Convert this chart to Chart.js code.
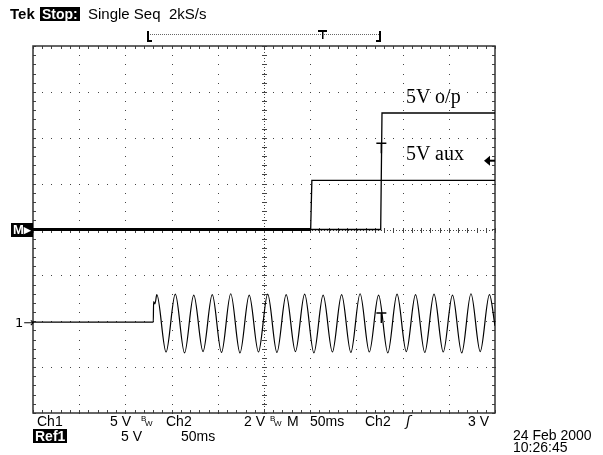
<!DOCTYPE html>
<html>
<head>
<meta charset="utf-8">
<script src="https://cdn.jsdelivr.net/npm/chart.js@4.4.0/dist/chart.umd.min.js"></script>
<style>
  html, body { margin: 0; padding: 0; background: #fff; }
  #wrap { position: relative; width: 603px; height: 455px; overflow: hidden; }
  #scope { position: absolute; left: 0; top: 0; }
  .t { position: absolute; font-family: "Liberation Sans", Arial, sans-serif; font-size: 14px; line-height: 14px; color: #000; white-space: pre; }
  .inv { background: #000; color: #fff; font-weight: bold; padding: 0 2px; }
  .serif { font-family: "Liberation Serif", "Times New Roman", serif; font-size: 20px; line-height: 20px; }
  .bw { position: absolute; font-size: 8px; line-height: 8px; }
</style>
</head>
<body>
<div id="wrap">
  <canvas id="scope" width="603" height="455"></canvas>

  <div class="t" style="left:10px;top:7px;font-weight:bold;font-size:15px;">Tek</div>
  <div class="t inv" style="left:40px;top:7px;">Stop:</div>
  <div class="t" style="left:88px;top:7px;font-size:15px;">Single Seq  2kS/s</div>

  <div class="t inv" style="left:11px;top:223px;font-size:13px;line-height:14px;padding:0 2px;">M▸</div>
  <div class="t" style="left:15px;top:316px;font-size:13px;font-family:'DejaVu Sans';">1→</div>

  <div class="t serif" style="left:406px;top:86px;">5V o/p</div>
  <div class="t serif" style="left:406px;top:143px;">5V aux</div>

  <div class="t" style="left:37px;top:414px;">Ch1</div>
  <div class="t" style="left:110px;top:414px;">5 V</div>
  <div class="t" style="left:141px;top:415px;"><span class="bw" style="left:0;top:0">B</span><span class="bw" style="left:4px;top:5px">W</span></div>
  <div class="t" style="left:166px;top:414px;">Ch2</div>
  <div class="t" style="left:244px;top:414px;">2 V</div>
  <div class="t" style="left:270px;top:415px;"><span class="bw" style="left:0;top:0">B</span><span class="bw" style="left:4px;top:5px">W</span></div>
  <div class="t" style="left:287px;top:414px;">M</div>
  <div class="t" style="left:310px;top:414px;">50ms</div>
  <div class="t" style="left:365px;top:414px;">Ch2</div>
  <div class="t" style="left:406px;top:414px;font-family:'DejaVu Sans';font-style:italic;">ʃ</div>
  <div class="t" style="left:468px;top:414px;">3 V</div>

  <div class="t inv" style="left:33px;top:429px;">Ref1</div>
  <div class="t" style="left:121px;top:429px;">5 V</div>
  <div class="t" style="left:181px;top:429px;">50ms</div>

  <div class="t" style="left:513px;top:428px;">24 Feb 2000</div>
  <div class="t" style="left:513px;top:440px;">10:26:45</div>
</div>
<script>
// eje x en ms (50 ms/div), eje y en divisiones (0 = centro)
const xTicks = [0, 50, 100, 150, 200, 250, 300, 350, 400, 450, 500];
const yTicks = [-4, -3, -2, -1, 0, 1, 2, 3, 4];

// Ref1: 5V o/p
const refTime  = [0, 376.3, 377.7, 500];
const refLevel = [0, 0, 2.54, 2.54];

// Ch1: 5V aux
const auxTime  = [0, 300.5, 301.8, 500];
const auxLevel = [0, 0, 1.07, 1.07];

// Ch2: red 50 Hz (picos y valles)
const ch2Time = [0, 130.2, 130.5, 132,
  134, 144, 154, 164, 174, 184, 194, 204, 214, 224, 234, 244, 254, 264, 274, 284,
  294, 304, 314, 324, 334, 344, 354, 364, 374, 384, 394, 404, 414, 424, 434, 444,
  454, 464, 474, 484, 494, 500];
const ch2Level = [-2.02, -2.02, -1.57, -1.62,
  -1.42, -2.67, -1.41, -2.69, -1.43, -2.66, -1.42, -2.68, -1.40, -2.69, -1.43, -2.67,
  -1.41, -2.68, -1.42, -2.66, -1.41, -2.69, -1.43, -2.67, -1.42, -2.68, -1.40, -2.67,
  -1.43, -2.69, -1.41, -2.66, -1.42, -2.68, -1.41, -2.67, -1.43, -2.69, -1.40, -2.66,
  -1.42, -2.10];

const triggerTime = 377;
const triggerLevel = 1.5;
const cursorLevels = [1.88, -1.82];

const pts = (xs, ys) => xs.map((v, i) => ({ x: v, y: ys[i] }));

// reticula de puntos del osciloscopio
const graticule = {
  id: 'graticule',
  beforeDatasetsDraw(chart) {
    const { ctx, chartArea: a, scales: { x, y } } = chart;
    ctx.save();
    ctx.fillStyle = '#444';
    const minorX = [], minorY = [];
    for (let v = 0; v <= 500.01; v += 10) minorX.push(Math.round(x.getPixelForValue(v)));
    for (let v = -4; v <= 4.001; v += 0.2) minorY.push(Math.round(y.getPixelForValue(v)));
    xTicks.slice(1, -1).forEach(t => {
      const px = Math.round(x.getPixelForValue(t));
      minorY.forEach(py => ctx.fillRect(px, py, 1, 1));
    });
    yTicks.slice(1, -1).forEach(t => {
      const py = Math.round(y.getPixelForValue(t));
      minorX.forEach(px => ctx.fillRect(px, py, 1, 1));
    });
    // ejes centrales con marcas
    const cx = Math.round(x.getPixelForValue(250));
    const cy = Math.round(y.getPixelForValue(0));
    for (let px = a.left; px < a.right; px += 3) ctx.fillRect(px, cy, 1, 1);
    for (let py = a.top; py < a.bottom; py += 3) ctx.fillRect(cx, py, 1, 1);
    minorX.forEach(px => ctx.fillRect(px, cy - 2, 1, 5));
    minorY.forEach(py => ctx.fillRect(cx - 2, py, 5, 1));
    // marcas en el borde
    minorX.forEach(px => { ctx.fillRect(px, a.top, 1, 3); ctx.fillRect(px, a.bottom - 3, 1, 3); });
    minorY.forEach(py => { ctx.fillRect(a.left, py, 3, 1); ctx.fillRect(a.right - 3, py, 3, 1); });
    ctx.strokeStyle = '#333';
    ctx.lineWidth = 1.5;
    ctx.strokeRect(a.left, a.top, a.right - a.left, a.bottom - a.top);
    ctx.restore();
  },
  afterDraw(chart) {
    const { ctx, scales: { x, y }, chartArea: a } = chart;
    ctx.save();
    ctx.strokeStyle = '#000';
    ctx.fillStyle = '#000';
    // cursores T
    const tx = x.getPixelForValue(triggerTime);
    cursorLevels.forEach(l => {
      const ty = y.getPixelForValue(l);
      ctx.lineWidth = 1.5;
      ctx.beginPath();
      ctx.moveTo(tx - 5, ty); ctx.lineTo(tx + 5, ty);
      ctx.moveTo(tx, ty); ctx.lineTo(tx, ty + 10);
      ctx.stroke();
    });
    // flecha de nivel de disparo
    const ay = y.getPixelForValue(triggerLevel);
    ctx.beginPath();
    ctx.moveTo(a.right - 11, ay); ctx.lineTo(a.right - 5, ay - 5); ctx.lineTo(a.right - 5, ay + 5);
    ctx.closePath(); ctx.fill();
    ctx.fillRect(a.right - 6, ay - 1, 6, 2);
    // registro superior [ ... T ... ]
    ctx.lineWidth = 1;
    ctx.fillStyle = '#666';
    for (let px = 150; px < 380; px += 2) ctx.fillRect(px, 34, 1, 1);
    ctx.fillStyle = '#000';
    ctx.fillRect(147, 31, 2, 11); ctx.fillRect(147, 40, 5, 2);
    ctx.fillRect(379, 31, 2, 11); ctx.fillRect(376, 40, 5, 2);
    ctx.fillRect(318, 30, 9, 2); ctx.fillRect(322, 30, 1.5, 9);
    ctx.restore();
  }
};

const cfg = {
  type: 'line',
  data: {
    datasets: [
      { label: 'Ref1', data: pts(refTime, refLevel), borderWidth: 1.3 },
      { label: 'Ch1', data: pts(auxTime, auxLevel), borderWidth: 1.3 },
      { label: 'Ch1 ruido', data: pts(auxTime.slice(0, 2), auxLevel.slice(0, 2)), borderWidth: 2.8 },
      { label: 'Ch2', data: pts(ch2Time, ch2Level), borderWidth: 1.2, cubicInterpolationMode: 'monotone' }
    ]
  },
  options: {
    responsive: false,
    animation: false,
    layout: { padding: { left: 33, top: 46, right: 108, bottom: 42 } },
    elements: { point: { radius: 0 }, line: { borderColor: '#000', fill: false } },
    scales: {
      x: { type: 'linear', min: 0, max: 500, display: false },
      y: { type: 'linear', min: -4, max: 4, display: false }
    },
    plugins: { legend: { display: false }, tooltip: { enabled: false } }
  },
  plugins: [graticule]
};

new Chart(document.getElementById('scope').getContext('2d'), cfg);
</script>
</body>
</html>
